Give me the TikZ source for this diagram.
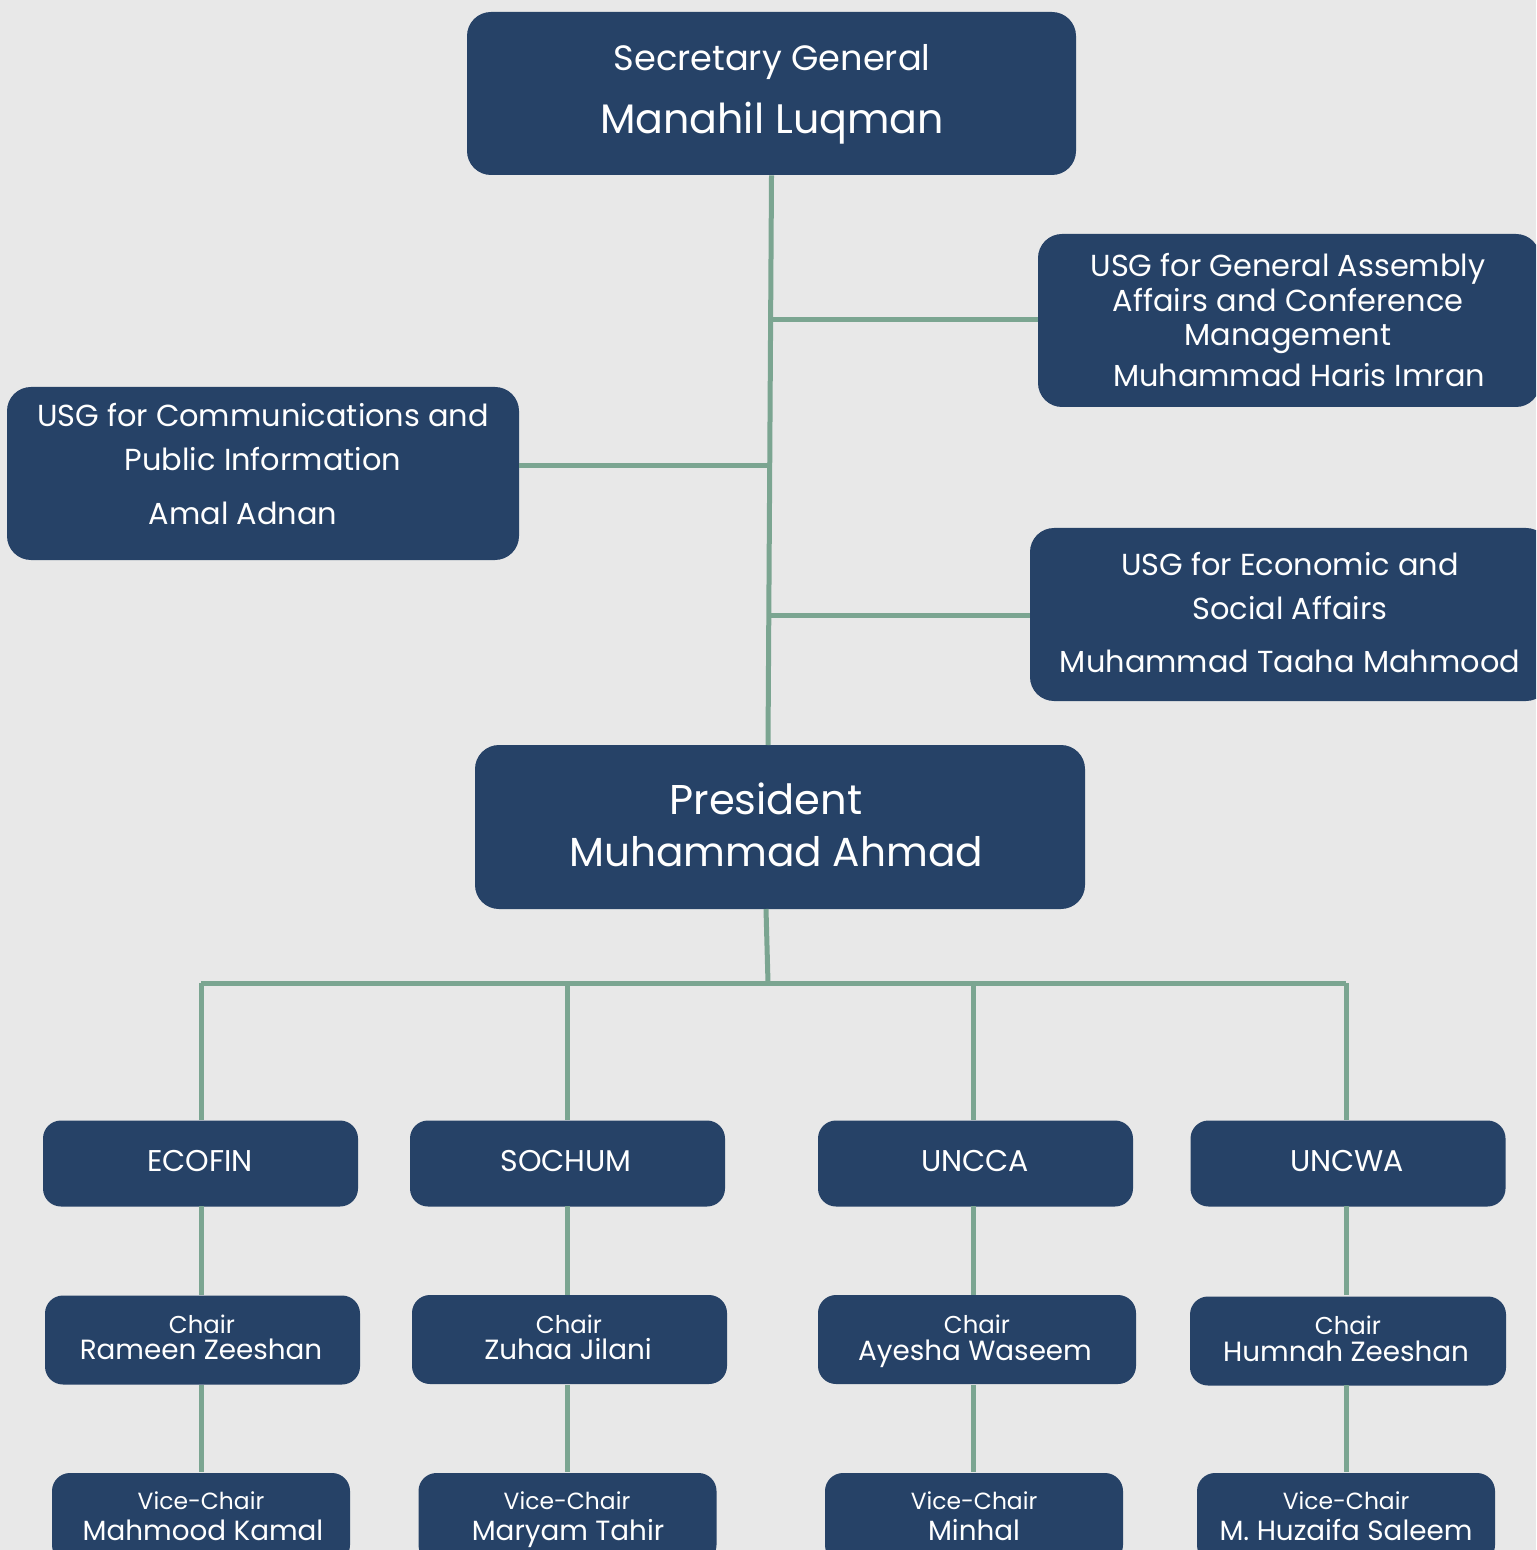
\documentclass[tikz,border=0pt]{standalone}
\usepackage{fontspec}
\setmainfont{Poppins}
\definecolor{bg}{HTML}{E8E8E8}
\definecolor{boxc}{HTML}{264267}
\definecolor{linec}{HTML}{7BA591}
\begin{document}
\begin{tikzpicture}[x=0.5pt,y=-0.5pt,
  box/.style={fill=boxc,draw=none,rounded corners=12pt,inner sep=0pt},
  sbox/.style={fill=boxc,draw=none,rounded corners=9pt,inner sep=0pt},
  txt/.style={text=white,inner sep=0pt,anchor=base},
  usg/.style={txt,font=\fontsize{15.2}{18}\selectfont},
  conn/.style={draw=linec,line width=2.5pt}]
\useasboundingbox (0,0) rectangle (1536,1550);
\clip (0,0) rectangle (1536,1550);
\fill[bg] (0,0) rectangle (1536,1550);
% boxes
\node[box,minimum width=304.5pt,minimum height=81.5pt] (sg) at (771.5,93.5) {};
\node[box,minimum width=251pt,minimum height=86.5pt] (ga) at (1289,320.5) {};
\node[box,minimum width=256pt,minimum height=86.5pt] (comm) at (263,473.5) {};
\node[box,minimum width=260pt,minimum height=86.5pt] (eco) at (1290,614.5) {};
\node[box,minimum width=305pt,minimum height=82pt] (pres) at (780,827) {};
\foreach \n/\cx in {c1/200.5,c2/567.5,c3/975.5,c4/1348}
  \node[sbox,minimum width=157.5pt,minimum height=43pt] (\n) at (\cx,1163.5) {};
\node[sbox,minimum width=157.5pt,minimum height=44.5pt] (h1) at (202.5,1340) {};
\node[sbox,minimum width=157.5pt,minimum height=44.5pt] (h2) at (569.5,1339.5) {};
\node[sbox,minimum width=159pt,minimum height=44.5pt] (h3) at (977,1339.5) {};
\node[sbox,minimum width=158pt,minimum height=44.5pt] (h4) at (1348,1341) {};
\foreach \n/\cx in {v1/201,v2/567.5,v3/974,v4/1346}
  \node[sbox,minimum width=149pt,minimum height=45pt] (\n) at (\cx,1518) {};
% texts
\node[txt,font=\fontsize{17.6}{21}\selectfont] (t1) at (772,71) {Secretary General};
\node[txt,font=\fontsize{20.6}{24}\selectfont] (t2) at (772,134) {Manahil Luqman};
\node[usg] (t3) at (1288,277) {USG for General Assembly};
\node[usg] (t4) at (1288,312) {Affairs and Conference};
\node[usg] (t5) at (1288,346) {Management};
\node[usg] (t6) at (1299,387) {Muhammad Haris Imran};
\node[usg] (t7) at (263,427) {USG for Communications and};
\node[usg] (t8) at (263,471) {Public Information};
\node[usg] (t9) at (243,524) {Amal Adnan};
\node[usg] (t10) at (1290,575) {USG for Economic and};
\node[usg] (t11) at (1290,619) {Social Affairs};
\node[usg] (t12) at (1290,672) {Muhammad Taaha Mahmood};
\node[txt,font=\fontsize{20.8}{24}\selectfont] (t13) at (766,814) {President};
\node[txt,font=\fontsize{20.3}{24}\selectfont] (t14) at (776,866) {Muhammad Ahmad};
\foreach \n/\cx/\s in {k1/200/ECOFIN,k2/566/SOCHUM,k3/975/UNCCA,k4/1347/UNCWA}
  \node[txt,font=\fontsize{15}{18}\selectfont] (\n) at (\cx,1171.5) {\s};
\foreach \n/\cx/\yy/\s in {a1/202/1333/Chair,a2/569/1333/Chair,a3/977/1333/Chair,a4/1348/1334/Chair}
  \node[txt,font=\fontsize{12.2}{14}\selectfont] (\n) at (\cx,\yy) {\s};
\foreach \n/\cx/\yy/\s in {b1/201/1359/Rameen Zeeshan,b2/568/1359/Zuhaa Jilani,b3/975/1360/Ayesha Waseem,b4/1346/1361/Humnah Zeeshan}
  \node[txt,font=\fontsize{13.9}{16}\selectfont] (\n) at (\cx,\yy) {\s};
\foreach \n/\cx/\s in {d1/201/Vice-Chair,d2/567/Vice-Chair,d3/974/Vice-Chair,d4/1346/Vice-Chair}
  \node[txt,font=\fontsize{11.7}{14}\selectfont] (\n) at (\cx,1509) {\s};
\foreach \n/\cx/\s in {e1/203/Mahmood Kamal,e2/568/Maryam Tahir,e3/974/Minhal,e4/1346/M. Huzaifa Saleem}
  \node[txt,font=\fontsize{13.9}{16}\selectfont] (\n) at (\cx,1540) {\s};
% connectors
\coordinate (ptop) at (768,745);
\coordinate (pbot) at (766,909);
\coordinate (j1) at (771,320);
\coordinate (j2) at (769.5,466);
\coordinate (j3) at (769,615);
\coordinate (bus) at (768,983);
\coordinate (bl) at (201,983);
\coordinate (br) at (1346,983);
\draw[conn] (sg.south) -- (ptop);
\draw[conn] (j1) -- (j1 -| ga.west);
\draw[conn] (j2) -- (j2 -| comm.east);
\draw[conn] (j3) -- (j3 -| eco.west);
\draw[conn] (pbot) -- (bus);
\draw[conn] (bl) -- (br);
\draw[conn] (bl) -- (bl |- c1.north);
\draw[conn] (567,983) -- (567,1120);
\draw[conn] (973,983) -- (973,1120);
\draw[conn] (br) -- (br |- c4.north);
\foreach \x in {201,567,973,1346}{
  \draw[conn] (\x,1206) -- (\x,1295);
  \draw[conn] (\x,1385) -- (\x,1472);
}
\end{tikzpicture}
\end{document}
